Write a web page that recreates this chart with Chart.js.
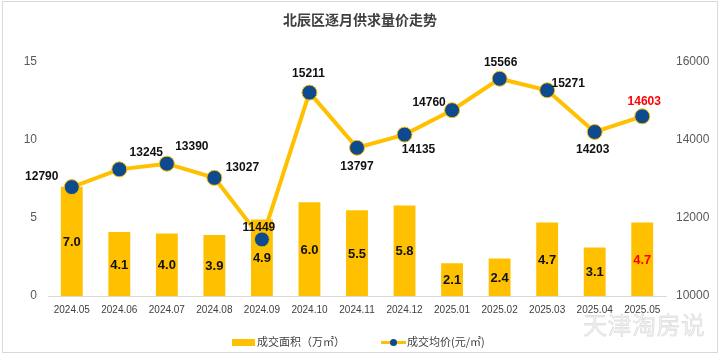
<!DOCTYPE html>
<html><head><meta charset="utf-8">
<script src="https://cdn.jsdelivr.net/npm/chart.js@4.4.1/dist/chart.umd.min.js"></script>
<style>
html,body{margin:0;padding:0;background:#fff;}
#wrap{position:relative;width:720px;height:355px;}
#wm{position:absolute;left:583px;top:309px;font:24px "Noto Sans CJK SC",sans-serif;color:#f0f0f0;-webkit-text-stroke:0.4px #d2d2d2;letter-spacing:0.5px;pointer-events:none;line-height:30px;}
#legend{position:absolute;top:332px;left:232px;font:11px "Noto Sans CJK SC",sans-serif;color:#404040;line-height:15px;white-space:nowrap;}
#legend .it{display:inline-block;vertical-align:middle;}
.box{display:inline-block;width:23px;height:7px;background:#FFC000;vertical-align:middle;margin-right:2px;}
.ln{display:inline-block;position:relative;width:25px;height:9px;vertical-align:middle;margin-right:1px;}
.ln:before{content:"";position:absolute;left:0;right:0;top:3px;height:3px;background:#FFC000;}
.ln:after{content:"";position:absolute;left:9px;top:1px;width:7px;height:7px;border-radius:50%;background:#0D4A8E;}
</style></head>
<body><div id="wrap"><canvas id="c" width="720" height="355"></canvas>
<div id="legend"><span class="it"><span class="box"></span>成交面积（万㎡）</span><span class="it" style="margin-left:36px"><span class="ln"></span>成交均价(元/㎡)</span></div>
<div id="wm">天津淘房说</div></div>
<script>
const categories = ['2024.05','2024.06','2024.07','2024.08','2024.09','2024.10','2024.11','2024.12','2025.01','2025.02','2025.03','2025.04','2025.05'];
const areaValues = [7.0,4.1,4.0,3.9,4.9,6.0,5.5,5.8,2.1,2.4,4.7,3.1,4.7];
const priceValues = [12790,13245,13390,13027,11449,15211,13797,14135,14760,15566,15271,14203,14603];
const leftTicks = [0,5,10,15];
const rightTicks = [10000,12000,14000,16000];

const YELLOW = '#FFC000', NAVY = '#0D4A8E';
const priceLabelOffsets = [[-30,-10],[27,-17],[25,-17],[28,-10],[-3,-12],[-1,-19],[0,19],[14,15],[-23,-8],[1,-16],[21,-7],[-2,18],[2,-15]];

const labelPlugin={id:'lbls',afterDatasetsDraw(chart){
  const ctx=chart.ctx; ctx.save(); ctx.textAlign='center'; ctx.textBaseline='middle';
  const bm=chart.getDatasetMeta(0), lm=chart.getDatasetMeta(1);
  const last=categories.length-1;
  bm.data.forEach((b,i)=>{
    ctx.font='bold 13px "Liberation Sans", Arial, sans-serif';
    ctx.fillStyle=i===last?'#FF0000':'#111';
    ctx.fillText(areaValues[i].toFixed(1), b.x, (b.y+b.base)/2+1);
  });
  lm.data.forEach((p,i)=>{
    ctx.font='bold 12px "Liberation Sans", Arial, sans-serif';
    ctx.fillStyle=i===last?'#FF0000':'#111';
    const o=priceLabelOffsets[i];
    ctx.fillText(String(priceValues[i]), p.x+o[0], p.y+o[1]);
  });
  ctx.restore();
}};
const framePlugin={id:'frame',beforeDraw(chart){
  const ctx=chart.ctx; ctx.save(); ctx.fillStyle='#fff'; ctx.fillRect(0,0,720,355);
  ctx.strokeStyle='#D9D9D9'; ctx.lineWidth=1; ctx.strokeRect(2.5,1.5,715,351); ctx.restore();
}};

new Chart(document.getElementById('c'),{
  data:{labels:categories,datasets:[
    {type:'bar',label:'成交面积（万㎡）',data:areaValues,backgroundColor:YELLOW,yAxisID:'y',order:2,barPercentage:0.92,categoryPercentage:0.5},
    {type:'line',label:'成交均价(元/㎡)',data:priceValues,borderColor:YELLOW,borderWidth:4,pointRadius:7.5,pointBackgroundColor:NAVY,pointBorderColor:YELLOW,pointBorderWidth:1,tension:0,yAxisID:'y1',order:1}
  ]},
  options:{responsive:false,animation:false,devicePixelRatio:1,
    layout:{padding:{left:0,right:0,top:0,bottom:31}},
    plugins:{
      title:{display:true,text:'北辰区逐月供求量价走势',color:'#404040',font:{size:14,weight:'bold',family:'"Noto Sans CJK SC", sans-serif'},padding:{top:11,bottom:34}},
      legend:{display:false},
      tooltip:{enabled:false}
    },
    scales:{
      x:{offset:true,grid:{display:false,drawTicks:false},border:{display:true,color:'#D9D9D9'},ticks:{padding:8,color:'#404040',font:{size:10,family:'"Liberation Sans", Arial, sans-serif'},maxRotation:0,autoSkip:false},afterFit(s){s.height=28;}},
      y:{position:'left',min:0,max:15,afterBuildTicks(s){s.ticks=leftTicks.map(v=>({value:v}));},grid:{display:false,drawTicks:false},border:{display:false},ticks:{padding:11,color:'#595959',font:{size:12,family:'"Liberation Sans", Arial, sans-serif'}},afterFit(s){s.width=48;}},
      y1:{position:'right',min:10000,max:16000,afterBuildTicks(s){s.ticks=rightTicks.map(v=>({value:v}));},grid:{display:false,drawTicks:false},border:{display:false},ticks:{padding:10,color:'#595959',font:{size:12,family:'"Liberation Sans", Arial, sans-serif'},callback:v=>String(v)},afterFit(s){s.width=54;}}
    }
  },
  plugins:[framePlugin,labelPlugin]
});
</script></body></html>
